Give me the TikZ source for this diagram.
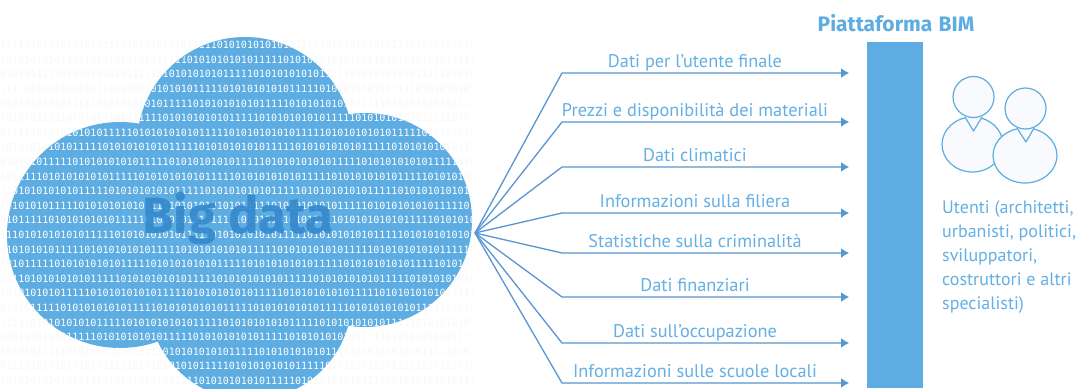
\documentclass[tikz,border=0pt]{standalone}
\usepackage{fontspec}
\usetikzlibrary{arrows.meta}
\setmainfont{PT Sans}
\newfontfamily\labelfont{PT Sans}
\newfontfamily\titlefont{Fira Sans}
\newfontfamily\bitfont{DejaVu Sans Mono}
\definecolor{skyblue}{RGB}{93,173,226}
\definecolor{deepblue}{RGB}{54,138,205}
\definecolor{linkblue}{RGB}{88,150,210}
\definecolor{labelblue}{RGB}{100,176,228}
\definecolor{faintgray}{RGB}{248,248,250}
\definecolor{iconfill}{RGB}{248,250,253}
\newcommand\bitstring{1111010101010101111101010101010111110101010101011111010101010101111101010101010111110101010101011111010101010101}
\tikzset{
  bits/.style={anchor=west, inner sep=0pt, font=\bitfont\fontsize{10}{10}\selectfont},
  cloud/.style={insert path={(245,145) circle[radius=108pt] (120,235) circle[radius=113pt]
                             (365,220) circle[radius=107pt] (250,298) circle[radius=102pt]}},
  link/.style={draw=linkblue, line width=1.3pt, line join=round, -{Latex[length=8pt,width=10pt]}},
  datalabel/.style={anchor=base, inner sep=0pt, text=labelblue, font=\labelfont\fontsize{18.3}{18.3}\selectfont},
  person/.style={draw=skyblue, fill=iconfill, line width=1.2pt, line join=round},
}
\begin{document}
\begin{tikzpicture}[x=1pt,y=-1pt]
\useasboundingbox (0,0) rectangle (1081,388);
\fill[white] (0,0) rectangle (1081,388);

% faint binary background
\begin{scope}
  \clip (0,38) rectangle (472,388);
  \foreach \i in {0,...,23} {
    \pgfmathsetmacro\off{mod(\i*5,16)*6.02}
    \node[bits, text=faintgray] (bg\i) at (-\off, 45+14.6*\i) {\bitstring};
  }
\end{scope}

% the cloud with white binary digits
\fill[skyblue, cloud];
\begin{scope}
  \clip[cloud];
  \foreach \i in {0,...,23} {
    \pgfmathsetmacro\off{mod(\i*5,16)*6.02}
    \node[bits, text=white] (bit\i) at (-\off, 45+14.6*\i) {\bitstring};
  }
\end{scope}
\node[text=deepblue, opacity=0.93, inner sep=0pt,
      font=\titlefont\bfseries\fontsize{51}{51}\selectfont] (bd) at (238,218) {Big data};

% fan of data flows
\coordinate (hub) at (475,233);
\foreach \y [count=\n] in {73,122,167,213,253,297,343,383} {
  \coordinate (k\n) at (562,\y);
  \coordinate (e\n) at (849,\y);
  \draw[link] (hub) -- (k\n) -- (e\n);
}
\foreach \y/\t [count=\n] in {73/{Dati per l’utente finale},
                              122/{Prezzi e disponibilità dei materiali},
                              167/{Dati climatici},
                              213/{Informazioni sulla filiera},
                              253/{Statistiche sulla criminalità},
                              297/{Dati finanziari},
                              343/{Dati sull’occupazione},
                              383/{Informazioni sulle scuole locali}} {
  \node[datalabel] (lab\n) at (695,\y-6) {\t};
}

% BIM platform
\node[fill=skyblue, inner sep=0pt, minimum width=56pt, minimum height=346pt, anchor=north west]
  (bar) at (867,42) {};
\node[anchor=base, inner sep=0pt, text=skyblue, font=\titlefont\bfseries\fontsize{21}{21}\selectfont]
  (title) at (896,31) {Piattaforma\hspace{0.3em}BIM};

% users icon
\draw[person] (972.5,144.5) ellipse[x radius=30.5pt, y radius=27.5pt];
\draw[person] (965,117) -- (973.5,131) -- (982,117);
\draw[person] (973.5,97) circle[radius=20.5pt];
\draw[person] (1025,155.5) ellipse[x radius=32pt, y radius=27.5pt];
\draw[person] (1017,128) -- (1026,142) -- (1034,128);
\draw[person] (1025.5,108.5) circle[radius=20.5pt];

\node[anchor=north west, align=left, inner sep=0pt, text=labelblue,
      font=\labelfont\fontsize{18}{24}\selectfont] (users) at (942,200)
  {Utenti (architetti,\\urbanisti, politici,\\sviluppatori,\\costruttori e altri\\specialisti)};
\end{tikzpicture}
\end{document}
